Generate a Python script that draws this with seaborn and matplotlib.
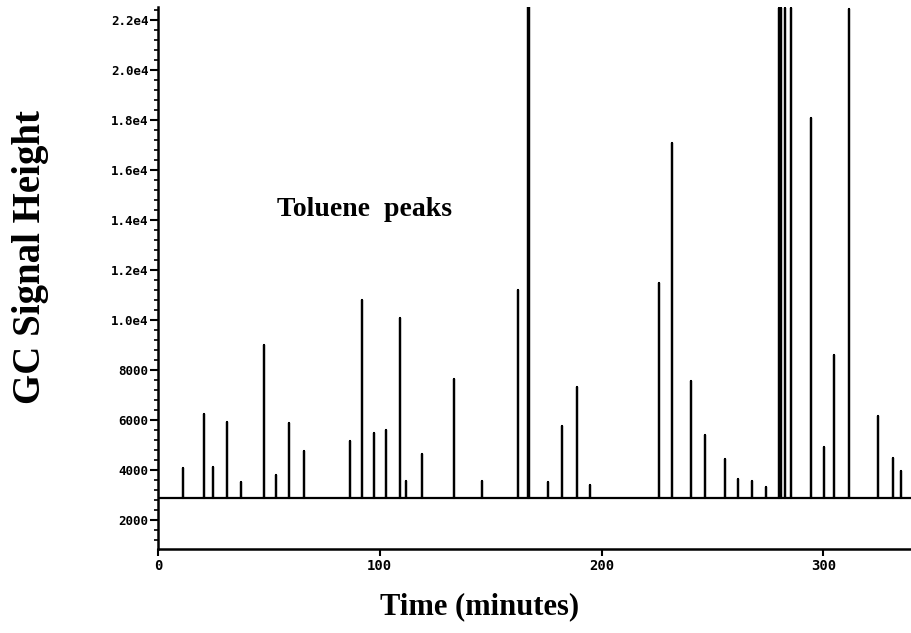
import numpy as np
import pandas as pd
import seaborn as sns
import matplotlib.pyplot as plt
from matplotlib.ticker import FixedLocator, MultipleLocator, FuncFormatter

"""GC signal trace (chromatogram) with toluene peaks, re-drawn from a scanned figure."""

# retention times of the peaks [minutes]
peak_times = [
    11.3, 20.7, 24.8, 31.1, 37.4, 47.7, 53.2, 59.0, 65.8, 86.5,
    91.9, 97.3, 102.7, 109.0, 111.7, 118.9, 133.3, 145.9, 162.2, 166.7,
    167.5, 176.0, 182.0, 189.0, 195.0, 225.7, 232.0, 240.5, 246.8, 255.9,
    261.7, 268.0, 274.3, 280.0, 280.8, 282.7, 285.6, 294.6, 300.5, 305.0,
    311.7, 324.8, 331.5, 335.0,
]
# peak heights [GC signal]
peak_heights = [
    4080, 6240, 4120, 5920, 3520, 9000, 3800, 5880, 4760, 5160,
    10800, 5480, 5600, 10080, 3560, 4640, 7640, 3560, 11200, 22550,
    22550, 3520, 5760, 7320, 3400, 11480, 17080, 7560, 5400, 4440,
    3640, 3560, 3320, 22500, 22500, 22500, 22500, 18080, 4920, 8600,
    22450, 6160, 4480, 3960,
]
baseline = 2900
t_end = 340

y_ticks = [2000, 4000, 6000, 8000, 10000, 12000, 14000, 16000, 18000, 20000, 22000]
x_ticks = [0, 100, 200, 300]

# build the trace: baseline with a spike at every peak
trace_t = [0]
trace_y = [baseline]
for t, h in zip(peak_times, peak_heights):
    trace_t += [t, t, t]
    trace_y += [baseline, h, baseline]
trace_t.append(t_end)
trace_y.append(baseline)
trace_df = pd.DataFrame({"time": trace_t, "signal": trace_y})


def tick_fmt(v, pos):
    if v >= 10000:
        return f"{v / 10000:.1f}e4"
    return f"{int(v)}"


sns.set_style("ticks")
fig = plt.figure(figsize=(9.12, 6.33), dpi=100)
ax = fig.add_axes([158 / 912, 1 - 549 / 633, 1 - 158 / 912, (549 - 7) / 633])

sns.lineplot(
    data=trace_df,
    x="time",
    y="signal",
    sort=False,
    estimator=None,
    color="black",
    linewidth=1.6,
    ax=ax,
)

ax.set_xlim(0, t_end)
ax.set_ylim(840, 22520)

ax.yaxis.set_major_locator(FixedLocator(y_ticks))
ax.yaxis.set_minor_locator(MultipleLocator(400))
ax.yaxis.set_major_formatter(FuncFormatter(tick_fmt))
ax.xaxis.set_major_locator(FixedLocator(x_ticks))

for lab in ax.get_yticklabels() + ax.get_xticklabels():
    lab.set_fontfamily("DejaVu Sans Mono")
    lab.set_fontweight("bold")
ax.tick_params(axis="y", which="major", length=6, width=1.5, labelsize=9, pad=1, colors="black")
ax.tick_params(axis="y", which="minor", length=3, width=1.2, colors="black")
ax.tick_params(axis="x", which="major", length=5, width=1.5, labelsize=10, pad=2, colors="black")

sns.despine(ax=ax)
for side in ["left", "bottom"]:
    ax.spines[side].set_linewidth(1.8)
    ax.spines[side].set_color("black")

ax.set_xlabel("Time (minutes)", family="Liberation Serif", weight="bold", fontsize=22, color="black")
ax.set_ylabel("GC Signal Height", family="Liberation Serif", weight="bold", fontsize=28, color="black")
ax.xaxis.set_label_coords((480 - 158) / 754, (549 - 607) / 542)
ax.xaxis.label.set_va("center")
ax.yaxis.set_label_coords((30 - 158) / 754, (549 - 257) / 542)
ax.yaxis.label.set_va("center")

ax.text(93.2, 14400, "Toluene  peaks", family="Liberation Serif", weight="bold",
        fontsize=20, ha="center", va="center", color="black")

plt.savefig("out.png", dpi=100)
plt.close(fig)
